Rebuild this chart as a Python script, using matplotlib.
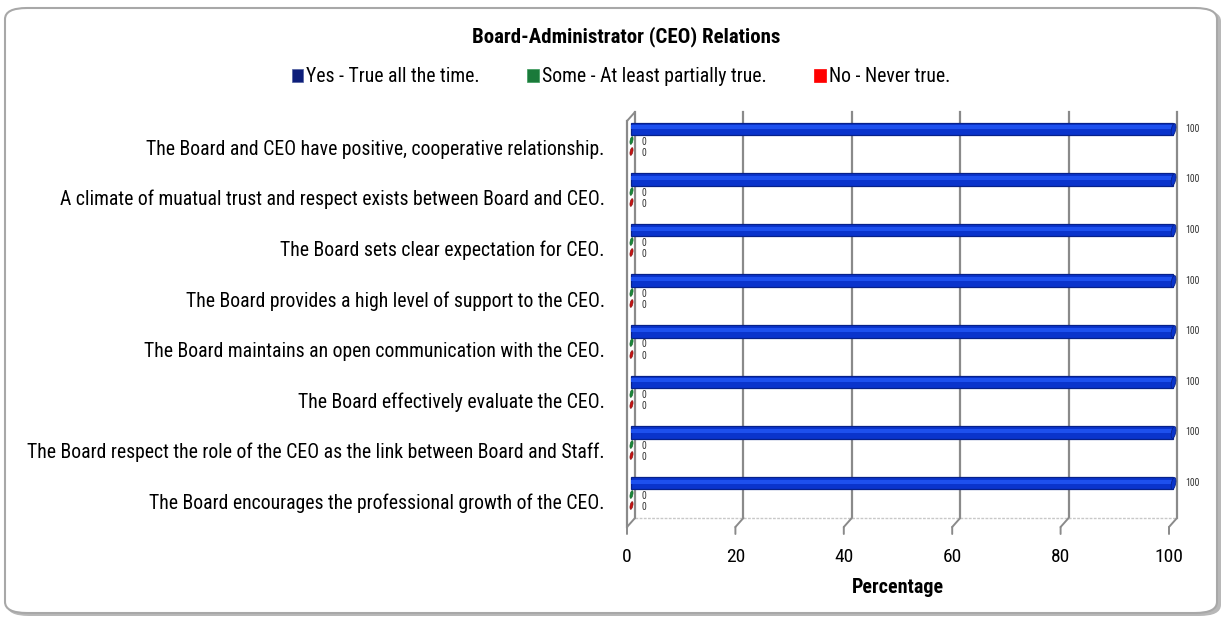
import numpy as np
import matplotlib
matplotlib.use('Agg')
import matplotlib.pyplot as plt
import matplotlib.transforms as mtransforms
from matplotlib.patches import FancyBboxPatch
from matplotlib.path import Path
from matplotlib import font_manager

# data
questions = [
    'The Board and CEO have positive, cooperative relationship.',
    'A climate of muatual trust and respect exists between Board and CEO.',
    'The Board sets clear expectation for CEO.',
    'The Board provides a high level of support to the CEO.',
    'The Board maintains an open communication with the CEO.',
    'The Board effectively evaluate the CEO.',
    'The Board respect the role of the CEO as the link between Board and Staff.',
    'The Board encourages the professional growth of the CEO.',
]
yes_vals = [100, 100, 100, 100, 100, 100, 100, 100]
some_vals = [0, 0, 0, 0, 0, 0, 0, 0]
no_vals = [0, 0, 0, 0, 0, 0, 0, 0]
series_names = ['Yes - True all the time.', 'Some - At least partially true.', 'No - Never true.']
xticks = [0, 20, 40, 60, 80, 100]

names = {f.name for f in font_manager.fontManager.ttflist}
fam = [f for f in ['Liberation Sans Narrow', 'Roboto Condensed', 'Open Sans Condensed', 'Liberation Sans'] if f in names]
plt.rcParams['font.family'] = fam + ['DejaVu Sans']

W, H = 1223, 620
fig = plt.figure(figsize=(W / 100, H / 100), dpi=100)

# outer rounded frame with shadow
fig.patches.append(FancyBboxPatch((7 / W, 4 / H), 1214 / W, 606 / H,
                                  boxstyle='round,pad=0,rounding_size=0.018',
                                  transform=fig.transFigure, facecolor='#b8b8b8',
                                  edgecolor='none', zorder=-2))
fig.patches.append(FancyBboxPatch((5 / W, 7 / H), 1212 / W, 605 / H,
                                  boxstyle='round,pad=0,rounding_size=0.018',
                                  transform=fig.transFigure, facecolor='white',
                                  edgecolor='#a8a8a8', linewidth=1.5, zorder=-1))

# plot box: front floor at y=527px, back wall top at 112px
x0, x1 = 627, 1169
ytop, ybot = 112, 527
ax = fig.add_axes([x0 / W, 1 - ybot / H, (x1 - x0) / W, (ybot - ytop) / H])
ax.patch.set_alpha(0)
for s in ax.spines.values():
    s.set_visible(False)

step = 50.6
ax.set_xlim(0, 100)
ax.set_ylim((ybot - 140) / step, (ytop - 140) / step)

pos = np.arange(len(questions))
dx, dy = 8, 9  # depth offset in pixels
back = mtransforms.offset_copy(ax.transData, fig=fig, x=dx, y=dy, units='dots')
mid = mtransforms.offset_copy(ax.transData, fig=fig, x=dx / 2, y=0, units='dots')

y_floor = (ybot - 140) / step
y_front_top = (ytop + dy - 140) / step
grid_c = '#8a8a8a'

# back wall gridlines and floor ticks
for v in xticks:
    ax.plot([v, v], [y_floor, y_front_top], color=grid_c, lw=1.6, transform=back,
            zorder=1, clip_on=False)
    ax.annotate('', xy=(v, y_floor), xycoords=back, xytext=(v, y_floor), textcoords='data',
                arrowprops=dict(arrowstyle='-', color=grid_c, lw=1.4, shrinkA=0, shrinkB=0))
    ax.annotate('', xy=(v, y_floor), xycoords='data', xytext=(0, -7), textcoords='offset pixels',
                arrowprops=dict(arrowstyle='-', color=grid_c, lw=1.4, shrinkA=0, shrinkB=0))
# left wall front edge and top diagonal
ax.plot([0, 0], [y_floor, y_front_top], color=grid_c, lw=1.6, zorder=1, clip_on=False)
ax.annotate('', xy=(0, y_front_top), xycoords=back, xytext=(0, y_front_top), textcoords='data',
            arrowprops=dict(arrowstyle='-', color=grid_c, lw=1.4, shrinkA=0, shrinkB=0))
# back floor edge
ax.plot([0, 100], [y_floor, y_floor], color='#c8c8c8', lw=1, ls=(0, (2, 1)),
        transform=back, zorder=1, clip_on=False)

# bars (cylinder look: dark body, lighter centre stripe, round end cap)
ell = Path.unit_circle().transformed(mtransforms.Affine2D().scale(0.35, 1.0).rotate_deg(-12))
ax.barh(pos - 0.22, yes_vals, height=0.25, color='#0a34cc', edgecolor='#07218a',
        linewidth=0.9, transform=mid, zorder=3, clip_on=False)
ax.barh(pos - 0.22 - 0.03, yes_vals, height=0.08, color='#1d50ee', linewidth=0,
        transform=mid, zorder=4, clip_on=False)
ax.scatter(yes_vals, pos - 0.22, marker=ell, s=75, color='#0a34cc', edgecolor='#07218a',
           linewidths=0.6, transform=mid, zorder=5, clip_on=False)

ax.scatter(some_vals, pos, marker=ell, s=32, color='#1a8a3a', edgecolor='#0d5a22',
           linewidths=0.4, transform=mid, zorder=3, clip_on=False)
ax.scatter(no_vals, pos + 0.22, marker=ell, s=32, color='#c81414', edgecolor='#7a0a0a',
           linewidths=0.4, transform=mid, zorder=3, clip_on=False)

# value labels
for p, a, b, c in zip(pos, yes_vals, some_vals, no_vals):
    ax.annotate(f'{a}', xy=(a, p - 0.22), xytext=(16, 0), textcoords='offset pixels',
                ha='left', va='center', fontsize=7, color='#333333')
    ax.annotate(f'{b}', xy=(b, p + 0.04), xytext=(15, 0), textcoords='offset pixels',
                ha='left', va='center', fontsize=7, color='#333333')
    ax.annotate(f'{c}', xy=(c, p + 0.26), xytext=(15, 0), textcoords='offset pixels',
                ha='left', va='center', fontsize=7, color='#333333')

ax.set_yticks(pos + 0.14)
ax.set_yticklabels(questions, fontsize=14.2)
ax.tick_params(axis='y', length=0, pad=16)
ax.set_xticks(xticks)
ax.set_xticklabels([str(t) for t in xticks], fontsize=14)
ax.tick_params(axis='x', length=0, pad=15)
ax.set_xlabel('Percentage', fontsize=14.5, fontweight='bold', labelpad=9)

fig.text(626 / W, 1 - 37 / H, 'Board-Administrator (CEO) Relations', ha='center', va='center',
         fontsize=15, fontweight='bold')

handles = [plt.Rectangle((0, 0), 1, 1, facecolor=c, edgecolor=e, lw=0.5)
           for c, e in [('#0d1e7a', '#5060a0'), ('#1a7a3a', '#3a9a5a'), ('#ff0000', '#ff0000')]]
fig.legend(handles, series_names, loc='center', bbox_to_anchor=(621 / W, 1 - 77 / H),
           ncol=3, frameon=False, fontsize=14.2, handlelength=0.6, handleheight=0.6,
           handletextpad=0.15, columnspacing=2.4)

fig.savefig('out.png', dpi=100)
